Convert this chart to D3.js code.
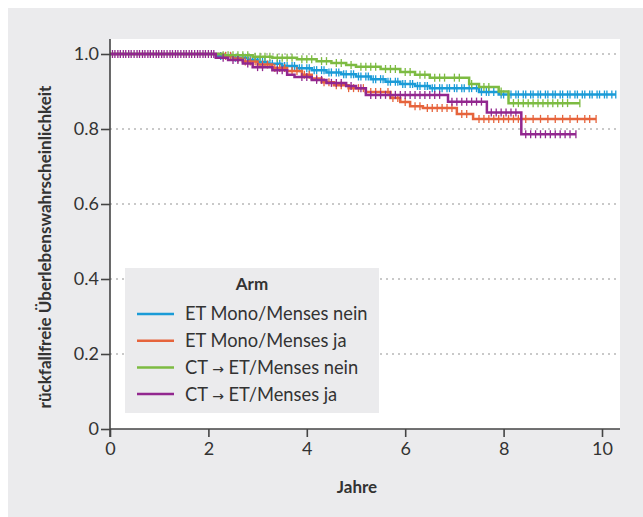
<!DOCTYPE html>
<head>
<meta charset="utf-8">
<script src="https://d3js.org/d3.v7.min.js"></script>
<style>
  body { margin: 0; background: #fff; }
  text { font-family: Lato, "Open Sans", sans-serif; fill: #333; }
</style>
</head>
<body>
<div id="chart"></div>
<script>

// arm names and colours
var arms = [["ET Mono/Menses nein"], ["ET Mono/Menses ja"], ["CT ", "\u2192", " ET/Menses nein"], ["CT ", "\u2192", " ET/Menses ja"]];
var colors = ["#1a9bd7", "#e6643c", "#7dbb42", "#92278f"];

// step curves: event times (years) and survival after each event
var blueTimes  = [0, 2.2, 2.5, 2.8, 3.0, 3.2, 3.5, 3.8, 4.1, 4.4, 4.7, 5.0, 5.3, 5.6, 5.9, 6.2, 6.5, 7.5, 7.9];
var blueSurv   = [1, .995, .99, .985, .979, .974, .968, .962, .957, .951, .946, .94, .933, .926, .92, .915, .909, .899, .892];
var blueEnd = 10.28;

var orangeTimes = [0, 2.3, 2.5, 2.7, 3.0, 3.3, 3.6, 3.9, 4.1, 4.3, 4.55, 4.85, 5.2, 5.7, 5.9, 6.1, 6.36, 7.05, 7.38];
var orangeSurv  = [1, .995, .988, .98, .972, .963, .955, .945, .935, .925, .917, .909, .899, .883, .872, .861, .856, .84, .827];
var orangeEnd = 9.88;

var greenTimes = [0, 2.3, 2.9, 3.3, 3.8, 4.2, 4.5, 4.8, 5.0, 5.5, 5.9, 6.2, 6.5, 7.3, 7.5, 7.9, 8.1];
var greenSurv  = [1, .997, .993, .99, .986, .981, .976, .971, .966, .96, .952, .945, .937, .92, .912, .9, .869];
var greenEnd = 9.55;

var purpleTimes = [0, 2.15, 2.4, 2.7, 2.9, 3.3, 3.6, 3.75, 4.1, 4.4, 4.8, 5.0, 5.2, 6.87, 7.66, 8.36];
var purpleSurv  = [1, .99, .984, .975, .965, .957, .945, .939, .931, .923, .915, .909, .891, .873, .844, .786];
var purpleEnd = 9.47;

// censoring times (years)
var blueCens = [2.25,2.35,2.45,2.55,2.6,2.7,2.75,2.85,2.9,3.0,3.05,3.1,3.15,3.25,3.3,3.4,3.45,3.55,3.6,3.7,3.75,3.85,3.9,4.0,4.05,4.15,4.2,4.3,4.35,4.45,4.5,4.6,4.65,4.75,4.8,4.9,4.95,5.05,5.1,5.2,5.25,5.35,5.4,5.5,5.55,5.65,5.7,5.8,5.85,5.95,6.0,6.1,6.15,6.25,6.3,6.4,6.45,6.55,6.6,6.7,6.75,6.85,6.9,7.0,7.05,7.15,7.2,7.3,7.35,7.45,7.55,7.65,7.7,7.8,7.95,8.0,8.1,8.15,8.25,8.3,8.4,8.45,8.55,8.6,8.7,8.75,8.85,8.9,9.0,9.05,9.15,9.2,9.3,9.35,9.45,9.5,9.6,9.65,9.75,9.8,9.9,9.95,10.05,10.1,10.2,10.28];
var orangeCens = [2.35,2.45,2.6,2.75,2.85,2.95,3.1,3.2,3.35,3.45,3.55,3.7,3.8,3.95,4.05,4.2,4.35,4.45,4.6,4.7,4.85,4.95,5.05,5.15,5.3,5.4,5.5,5.65,5.75,5.85,6.0,6.2,6.3,6.45,6.55,6.65,6.75,6.85,6.95,7.15,7.25,7.5,7.6,7.7,7.8,7.9,8.0,8.1,8.2,8.3,8.45,8.6,8.75,8.9,9.05,9.2,9.35,9.5,9.65,9.75,9.88];
var greenCens = [2.3,2.4,2.5,2.6,2.7,2.8,2.95,3.05,3.15,3.25,3.4,3.5,3.6,3.7,3.9,4.0,4.1,4.3,4.4,4.6,4.7,4.9,5.1,5.2,5.3,5.4,5.6,5.7,5.8,6.0,6.1,6.3,6.4,6.6,6.7,6.8,7.0,7.1,7.35,7.6,7.7,7.95,8.2,8.3,8.4,8.5,8.6,8.7,8.8,8.9,9.0,9.1,9.2,9.3,9.55];
var purpleCens = [0.05,0.1,0.16,0.21,0.27,0.32,0.38,0.43,0.49,0.55,0.6,0.66,0.71,0.77,0.82,0.88,0.94,0.99,1.05,1.1,1.16,1.22,1.27,1.33,1.38,1.44,1.5,1.55,1.61,1.66,1.72,1.78,1.83,1.89,1.94,2.0,2.06,2.11,2.3,2.5,2.6,2.8,3.0,3.1,3.4,3.5,3.9,4.0,4.2,4.3,4.5,4.6,4.7,4.9,5.1,5.3,5.4,5.5,5.6,5.7,5.8,5.9,6.0,6.1,6.2,6.3,6.4,6.5,6.6,6.7,6.95,7.05,7.15,7.25,7.35,7.45,7.55,7.75,7.85,7.95,8.05,8.15,8.25,8.45,8.55,8.65,8.75,8.85,8.95,9.05,9.15,9.25,9.35,9.47];

var xTicks = [0, 2, 4, 6, 8, 10];
var yTicks = [0, 0.2, 0.4, 0.6, 0.8, 1.0];

var series = [
  {times: blueTimes, surv: blueSurv, end: blueEnd, cens: blueCens},
  {times: orangeTimes, surv: orangeSurv, end: orangeEnd, cens: orangeCens},
  {times: greenTimes, surv: greenSurv, end: greenEnd, cens: greenCens},
  {times: purpleTimes, surv: purpleSurv, end: purpleEnd, cens: purpleCens}
];

var width = 643, height = 517;

var svg = d3.select("#chart").append("svg")
    .attr("width", width)
    .attr("height", height);

// outer grey frame
svg.append("rect")
    .attr("x", 8).attr("y", 8)
    .attr("width", width - 8).attr("height", height - 8)
    .attr("fill", "#ebebed");

var x = d3.scaleLinear().domain([0, 10]).range([110, 602]);
var y = d3.scaleLinear().domain([0, 1]).range([429, 54]);

// white plot panel
svg.append("rect")
    .attr("x", 110).attr("y", 39)
    .attr("width", 620 - 110).attr("height", 429 - 39)
    .attr("fill", "#fff");

// dotted grid lines
svg.append("g").selectAll("line")
    .data(yTicks.filter(d => d > 0))
    .enter().append("line")
    .attr("x1", 110).attr("x2", 620)
    .attr("y1", d => y(d)).attr("y2", d => y(d))
    .attr("stroke", "#b8b8b8")
    .attr("stroke-width", 1.5)
    .attr("stroke-dasharray", "2,4");

// curves
var line = d3.line()
    .x(d => x(d[0]))
    .y(d => y(d[1]))
    .curve(d3.curveStepAfter);

function survAt(s, t) {
  var v = 1;
  for (var i = 0; i < s.times.length; i++) {
    if (s.times[i] <= t) v = s.surv[i];
  }
  return v;
}

series.forEach(function(s, k) {
  var pts = s.times.map((t, i) => [t, s.surv[i]]);
  pts.push([s.end, s.surv[s.surv.length - 1]]);

  var g = svg.append("g");
  g.append("path")
      .attr("d", line(pts))
      .attr("fill", "none")
      .attr("stroke", colors[k])
      .attr("stroke-width", 2.5);

  g.selectAll("line")
      .data(s.cens)
      .enter().append("line")
      .attr("x1", d => x(d)).attr("x2", d => x(d))
      .attr("y1", d => y(survAt(s, d)) - 4)
      .attr("y2", d => y(survAt(s, d)) + 4)
      .attr("stroke", colors[k])
      .attr("stroke-width", 1.3);
});

// axes
var axisColor = "#444";

var xAxis = svg.append("g")
    .attr("transform", "translate(0,429)")
    .call(d3.axisBottom(x).tickValues(xTicks).tickFormat(d3.format("d")).tickSize(8).tickSizeOuter(0));
xAxis.select(".domain").attr("d", "M110,0H620");

var yAxis = svg.append("g")
    .attr("transform", "translate(110,0)")
    .call(d3.axisLeft(y).tickValues(yTicks).tickFormat(d => d === 0 ? "0" : d3.format(".1f")(d)).tickSize(9).tickSizeOuter(0));
yAxis.select(".domain").attr("d", "M0,39V437");

[xAxis, yAxis].forEach(function(a) {
  a.selectAll(".domain").attr("stroke", axisColor).attr("stroke-width", 1.6);
  a.selectAll(".tick line").attr("stroke", axisColor).attr("stroke-width", 1.6);
  a.selectAll(".tick text")
      .attr("fill", "#333")
      .style("font-family", 'Lato, sans-serif')
      .style("font-size", "18px");
});
xAxis.selectAll(".tick text").attr("dy", "0.85em");
yAxis.selectAll(".tick text").attr("x", -11);

// axis titles
svg.append("text")
    .attr("x", 357).attr("y", 493)
    .attr("text-anchor", "middle")
    .style("font-size", "17px")
    .style("font-weight", "bold")
    .text("Jahre");

svg.append("text")
    .attr("transform", "translate(51,247) rotate(-90)")
    .attr("text-anchor", "middle")
    .style("font-size", "17px")
    .style("font-weight", "bold")
    .text("r\u00fcckfallfreie \u00dcberlebenswahrscheinlichkeit");

// legend
var legend = svg.append("g");
legend.append("rect")
    .attr("x", 125).attr("y", 268)
    .attr("width", 254).attr("height", 145)
    .attr("fill", "#ebebed");

legend.append("text")
    .attr("x", 252).attr("y", 290)
    .attr("text-anchor", "middle")
    .style("font-size", "17px")
    .style("font-weight", "bold")
    .text("Arm");

arms.forEach(function(parts, i) {
  var ly = 314 + i * 26.7;
  legend.append("line")
      .attr("x1", 137).attr("x2", 174)
      .attr("y1", ly).attr("y2", ly)
      .attr("stroke", colors[i])
      .attr("stroke-width", 2.5);
  var t = legend.append("text")
      .attr("x", 185).attr("y", ly)
      .attr("dy", "0.35em")
      .style("font-size", "18.3px");
  parts.forEach(function(p) {
    var ts = t.append("tspan").text(p);
    if (p === "\u2192") ts.style("font-family", '"DejaVu Sans", sans-serif').style("font-size", "14px");
  });
});

</script>
</body>
